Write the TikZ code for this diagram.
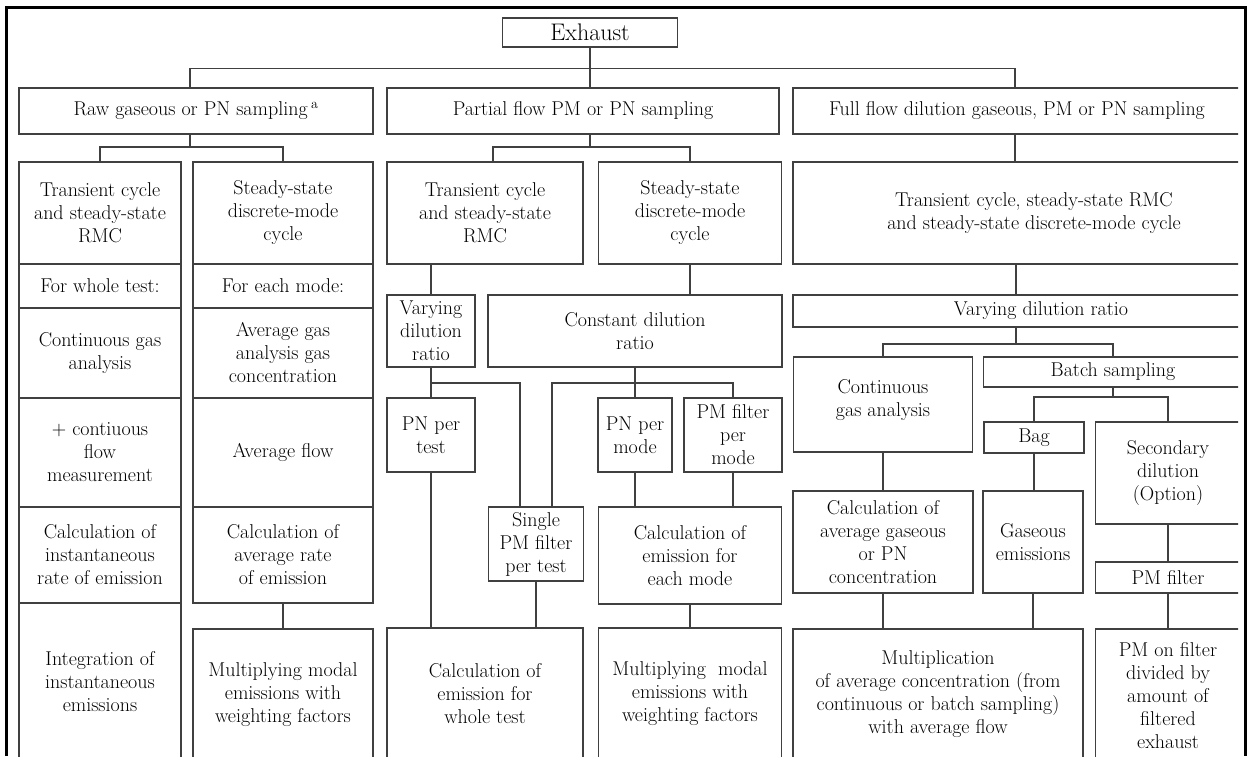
\documentclass[tikz,border=0pt]{standalone}
\usepackage{fontspec}
\usepackage{tikz}
\usetikzlibrary{positioning,calc}

\begin{document}
\begin{tikzpicture}[
        x=1pt, y=-1pt,
        box/.style={
            draw=black!75,
            line width=1.5pt,
            rectangle,
            align=center,
            inner sep=2pt,
            text=black,
            font=\fontsize{20}{23}\selectfont
        },
        wh/.style 2 args={minimum width=#1pt, minimum height=#2pt},
        link/.style={
            draw=black!75,
            line width=1.5pt
        },
        frame/.style={
            draw=black,
            line width=3pt
        }
    ]
    \useasboundingbox (0,0) rectangle (1252,756);
    \begin{scope}
    \clip (0,0) rectangle (1238,756);

    % Top levels
    \node[box, wh={175}{29}, font=\fontsize{24}{26}\selectfont] (exhaust) at (590,32.5) {Exhaust};
    \node[box, wh={354}{46}] (raw) at (196,111) {Raw gaseous or PN sampling\,\textsuperscript{a}};
    \node[box, wh={392}{46}] (partial) at (583,111) {Partial flow PM or PN sampling};
    \node[box, wh={448}{46}] (full) at (1017,111) {Full flow dilution gaseous, PM or PN sampling};

    % Raw sampling column
    \node[box, wh={162}{102}] (r-trans) at (100,213) {Transient cycle\\and steady-state\\RMC};
    \node[box, wh={162}{44}] (r-whole) at (100,286) {For whole test:};
    \node[box, wh={162}{90}] (r-cont) at (100,353) {Continuous gas\\analysis};
    \node[box, wh={162}{109}] (r-flow) at (100,452.5) {+ contiuous\\flow\\measurement};
    \node[box, wh={162}{96}] (r-inst) at (100,555) {Calculation of\\instantaneous\\rate of emission};
    \node[box, wh={162}{157}] (r-integ) at (100,681.5) {Integration of\\instantaneous\\emissions};

    \node[box, wh={180}{102}] (r-steady) at (283,213) {Steady-state\\discrete-mode\\cycle};
    \node[box, wh={180}{44}] (r-each) at (283,286) {For each mode:};
    \node[box, wh={180}{90}] (r-avggas) at (283,353) {Average gas\\analysis gas\\concentration};
    \node[box, wh={180}{109}] (r-avgflow) at (283,452.5) {Average flow};
    \node[box, wh={180}{96}] (r-avgrate) at (283,555) {Calculation of\\average rate\\of emission};
    \node[box, wh={180}{131}] (r-multi) at (283,694.5) {Multiplying modal\\emissions with\\weighting factors};

    % Partial flow column
    \node[box, wh={196}{102}] (p-trans) at (485,213) {Transient cycle\\and steady-state\\RMC};
    \node[box, wh={183}{102}] (p-steady) at (690,213) {Steady-state\\discrete-mode\\cycle};
    \node[box, wh={88}{72}] (p-vary) at (431,331) {Varying\\dilution\\ratio};
    \node[box, wh={294}{72}] (p-const) at (635,331) {Constant dilution\\ratio};
    \node[box, wh={88}{74}] (p-pntest) at (431,435) {PN per\\test};
    \node[box, wh={74}{74}] (p-pnmode) at (635,435) {PN per\\mode};
    \node[box, wh={98}{74}] (p-pmmode) at (733,435) {PM filter\\per\\mode};
    \node[box, wh={95}{74}] (p-single) at (536,544) {Single\\PM filter\\per test};
    \node[box, wh={183}{97}] (p-calcmode) at (690,555.5) {Calculation of\\emission for\\each mode};
    \node[box, wh={196}{132}] (p-calctest) at (485,694) {Calculation of\\emission for\\whole test};
    \node[box, wh={183}{132}] (p-multi) at (690,694) {Multiplying~~modal\\emissions with\\weighting factors};

    % Full flow column
    \node[box, wh={482}{102}] (f-trans) at (1034,213) {Transient cycle, steady-state RMC\\and steady-state discrete-mode cycle};
    \node[box, wh={496}{32}] (f-vary) at (1041,311) {Varying dilution ratio};
    \node[box, wh={179}{95}] (f-cont) at (883,404.5) {Continuous\\gas analysis\\[-9pt]~};
    \node[box, wh={259}{30}] (batch) at (1113,372) {Batch sampling};
    \node[box, wh={100}{31}] (bag) at (1034,437.5) {Bag};
    \node[box, wh={145}{102}] (sec) at (1168,473) {Secondary\\dilution\\(Option)};
    \node[box, wh={180}{102}] (f-calc) at (883,542) {Calculation of\\average gaseous\\or PN\\concentration};
    \node[box, wh={100}{102}] (gas) at (1033,542) {Gaseous\\emissions};
    \node[box, wh={145}{31}] (pmf) at (1168,577.5) {PM filter};
    \node[box, wh={290}{131}] (mult) at (938,694.5) {Multiplication\\of average concentration (from\\continuous or batch sampling)\\with average flow};
    \node[box, wh={145}{134}] (pmon) at (1168,696) {PM on filter\\divided by\\amount of\\filtered\\exhaust};

    % Junctions
    \coordinate (rj) at (190,147);
    \coordinate (pj) at (590,147);
    \coordinate (vj) at (431,383);
    \coordinate (cj) at (635,383);
    \coordinate (fj) at (1016,344);
    \coordinate (bj) at (1113,397);

    % Connectors
    \draw[link] (exhaust.south) -- (exhaust.south |- partial.north);
    \draw[link] ([xshift=-6pt]raw.north) -- ++(0,-19) -| ([xshift=-2pt]full.north);

    \draw[link] (raw.south -| rj) -- (rj);
    \draw[link] (r-trans.north) |- (rj) -| (r-steady.north);
    \draw[link] (r-avgrate.south) -- (r-multi.north);

    \draw[link] (partial.south -| pj) -- (pj);
    \draw[link] ([xshift=8pt]p-trans.north) |- (pj) -| (p-steady.north);
    \draw[link] (p-vary.north |- p-trans.south) -- (p-vary.north);
    \draw[link] (p-steady.south) -- (p-steady.south |- p-const.north);
    \draw[link] (p-vary.south) -- (p-pntest.north);
    \draw[link] (vj) -| ([xshift=-16pt]p-single.north);
    \draw[link] (p-const.south) -- (p-pnmode.north);
    \draw[link] ([xshift=16pt]p-single.north) |- (cj) -| (p-pmmode.north);
    \draw[link] (p-pntest.south) -- (p-pntest.south |- p-calctest.north);
    \draw[link] (p-single.south) -- (p-single.south |- p-calctest.north);
    \draw[link] (p-pnmode.south) -- (p-pnmode.south |- p-calcmode.north);
    \draw[link] (p-pmmode.south) -- (p-pmmode.south |- p-calcmode.north);
    \draw[link] (p-calcmode.south) -- (p-multi.north);

    \draw[link] ([xshift=-2pt]full.south) -- ([xshift=-2pt]full.south |- f-trans.north);
    \draw[link] (fj |- f-trans.south) -- (fj |- f-vary.north);
    \draw[link] (f-vary.south -| fj) -- (fj);
    \draw[link] (f-cont.north) |- (fj) -| (batch.north);
    \draw[link] (batch.south -| bj) -- (bj);
    \draw[link] (bag.north) |- (bj) -| (sec.north);
    \draw[link] (f-cont.south) -- (f-cont.south |- f-calc.north);
    \draw[link] (bag.south) -- (bag.south |- gas.north);
    \draw[link] (sec.south) -- (pmf.north);
    \draw[link] (pmf.south) -- (pmon.north);
    \draw[link] (f-calc.south) -- (f-calc.south |- mult.north);
    \draw[link] (gas.south) -- (gas.south |- mult.north);
    \end{scope}

    % Frame
    \draw[frame] (6,756) -- (6,7) -- (1245,7) -- (1245,756);
\end{tikzpicture}
\end{document}
